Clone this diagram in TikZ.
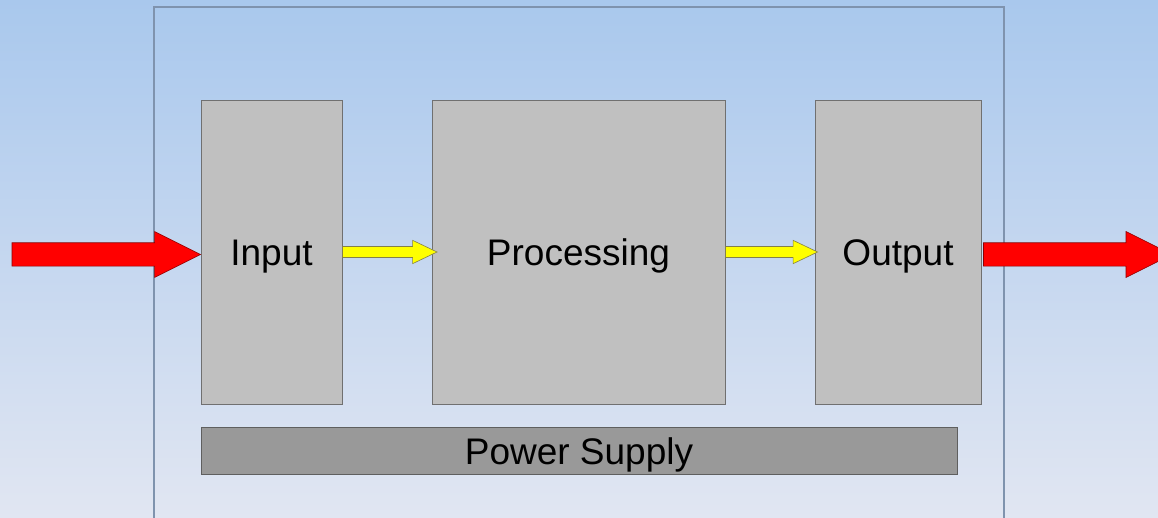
\documentclass[tikz,border=0pt]{standalone}
\usepackage{fontspec}
\setmainfont{Liberation Sans}
\usetikzlibrary{calc}
\definecolor{skytop}{HTML}{A9C8ED}
\definecolor{skybot}{HTML}{E1E6F2}
\definecolor{boardline}{HTML}{7F93AE}
\definecolor{blockgrey}{HTML}{C0C0C0}
\definecolor{blockline}{HTML}{707070}
\definecolor{psugrey}{HTML}{999999}
\definecolor{flowred}{HTML}{FF0000}
\definecolor{flowyellow}{HTML}{FFFF00}
\newcommand{\BText}{\fontsize{37}{44}\selectfont}
% fat arrow: style, from, to, half shaft, half head, head length
\newcommand{\blockarrow}[6]{%
  \draw[#1] let \p1=#2, \p2=#3 in
    (\x1,\y1+#4pt) -- (\x2-#6pt,\y1+#4pt) -- (\x2-#6pt,\y1+#5pt) -- (\x2,\y1)
    -- (\x2-#6pt,\y1-#5pt) -- (\x2-#6pt,\y1-#4pt) -- (\x1,\y1-#4pt) -- cycle;}

\begin{document}
\begin{tikzpicture}[x=1pt, y=-1pt,
  font=\BText,
  board/.style={draw=boardline, line width=1.2pt, minimum width=850pt,
                minimum height=523pt, inner sep=0pt},
  block/.style={draw=blockline, line width=0.9pt, fill=blockgrey,
                minimum height=304pt, inner sep=0pt,
                text height=27.5pt, text depth=0pt},
  psu/.style={draw=blockline!85!black, line width=0.9pt, fill=psugrey,
              minimum width=756pt, minimum height=47pt, inner sep=0pt,
              text height=27pt, text depth=0pt},
  redflow/.style={fill=flowred, draw=red!55!black, line width=0.6pt},
  yellowflow/.style={fill=flowyellow, draw=yellow!45!black, line width=0.6pt}
]
\useasboundingbox (0,0) rectangle (1158,518);
\clip (0,0) rectangle (1158,518);
\shade[top color=skytop, bottom color=skybot] (0,0) rectangle (1158,518);

% Enclosure and the blocks inside it.
\node[board] (board) at (579,268.5) {};
\node[block, minimum width=141pt] (input) at (271.5,252) {Input};
\node[block, minimum width=293pt] (proc) at (578.5,252) {Processing};
\node[block, minimum width=166pt] (output) at (898,252) {Output};
\node[psu] (power) at (579,450.5) {Power Supply};

% Signal path.
\coordinate (src) at (12,254.5);
\coordinate (sink) at (1172,254.5);
\blockarrow{redflow}{(src)}{(src -| input.west)}{11.7}{23}{46}
\blockarrow{yellowflow}{(input.east)}{($(proc.west)+(5.5,0)$)}{5.5}{11.7}{24.5}
\blockarrow{yellowflow}{(proc.east)}{($(output.west)+(3,0)$)}{5.5}{11.7}{24.5}
\blockarrow{redflow}{($(output.east |- sink)+(2,0)$)}{(sink)}{11.7}{23}{46}
\end{tikzpicture}
\end{document}
